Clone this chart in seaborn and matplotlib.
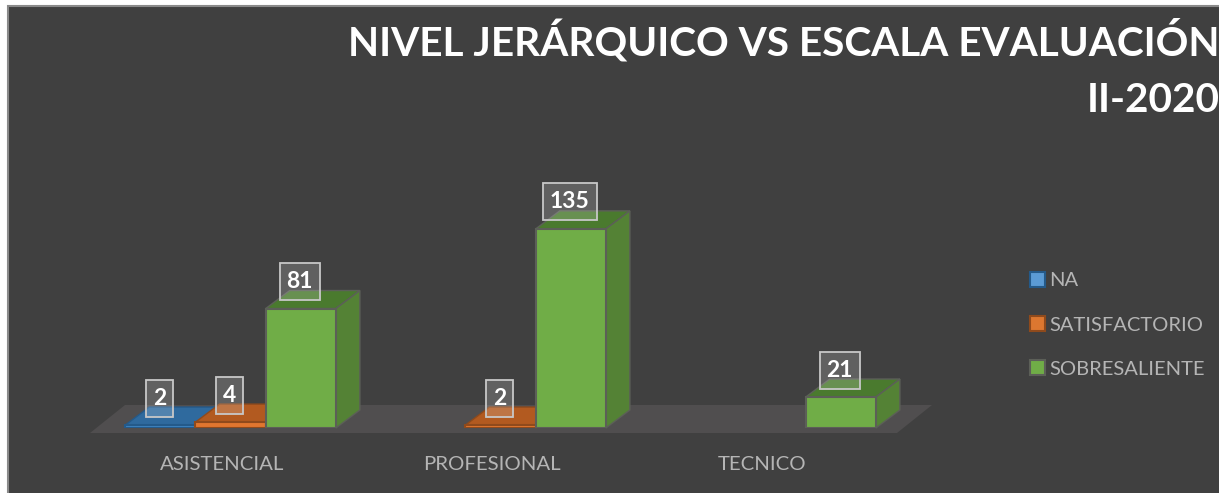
import pandas as pd
import numpy as np
import matplotlib
matplotlib.use("Agg")
import matplotlib.pyplot as plt
from matplotlib.patches import Polygon, Rectangle
from matplotlib.path import Path
from matplotlib.transforms import ScaledTranslation
import seaborn as sb

niveles = ["ASISTENCIAL", "PROFESIONAL", "TECNICO"]
escalas = ["NA", "SATISFACTORIO", "SOBRESALIENTE"]
val_na = [2, np.nan, np.nan]
val_satisfactorio = [4, 2, np.nan]
val_sobresaliente = [81, 135, 21]

culori_fata = ["#3F83BF", "#E0762F", "#70AD47"]
culori_sus = ["#2F6A9E", "#B25A20", "#4A7A2E"]
culori_lat = ["#2A5F8E", "#A04F1C", "#548235"]
culori_bord = ["#245A8A", "#8F4A1C", "#5C5F58"]

W, H = 1219, 493
FUNDAL = "#404040"
GRI = "#B5B5B5"


def caseta(x0, y0, w, h, mutation_size):
    # caseta etichetei: inaltime fixa, 7 px spatiu lateral
    cy = y0 + h / 2
    x1, x2 = x0 - 7, x0 + w + 7
    y1, y2 = cy - 18.5, cy + 18.5
    return Path([(x1, y1), (x2, y1), (x2, y2), (x1, y2), (x1, y1)], closed=True)


t = pd.DataFrame({"nivel": niveles, "NA": val_na,
                  "SATISFACTORIO": val_satisfactorio,
                  "SOBRESALIENTE": val_sobresaliente})
t = t.melt(id_vars="nivel", var_name="escala", value_name="valor").dropna()

sb.set_style("white")
plt.rcParams["font.family"] = ["Lato", "DejaVu Sans"]

fig = plt.figure(figsize=(W / 100, H / 100), dpi=100, facecolor="white")

# fundal inchis, in pixeli de figura; marginile dreapta/jos ies din imagine
fig.add_artist(Rectangle((8 / W, -0.02), 1.02 - 8 / W, 1.02 - 6 / H, transform=fig.transFigure,
                         facecolor=FUNDAL, edgecolor="#8A8A8A", linewidth=1.5, zorder=-5))

# axa: 270 px pe categorie, 1.475 px pe unitate, baza la y=428
ax = fig.add_axes([95.6 / W, (H - 428) / H, 810 / W, 295 / H])
ax.patch.set_alpha(0)

sb.barplot(data=t, x="nivel", y="valor", hue="escala", order=niveles,
           hue_order=escalas, palette=culori_fata, width=0.78, gap=0,
           saturation=1, ax=ax, legend=False)
ax.set_xlim(-0.5, 2.5)
ax.set_ylim(0, 200)
sb.despine(ax=ax, left=True, bottom=True)
ax.set_xlabel("")
ax.set_ylabel("")
ax.set_yticks([])
ax.tick_params(axis="x", length=0, pad=20.5, labelsize=14.7, labelcolor=GRI)
for lab in ax.get_xticklabels():
    lab.set_transform(lab.get_transform() + ScaledTranslation(-8.5 / 100, 0, fig.dpi_scale_trans))

px_x = 810 / 3
px_y = 295 / 200
dx = 24 / px_x
dy = 18 / px_y

# podeaua 3D
y_fata = -5 / px_y
y_spate = 23 / px_y
x_st = (90 - 95.6) / px_x - 0.5
x_dr = (897 - 95.6) / px_x - 0.5
podea = Polygon([(x_st, y_fata), (x_dr, y_fata),
                 (x_dr + 35 / px_x, y_spate), (x_st + 35 / px_x, y_spate)],
                facecolor="#504E4F", edgecolor="none", zorder=1, clip_on=False)
ax.add_patch(podea)

for k, cont in enumerate(ax.containers):
    z = 3 + k
    for bara, v in zip(cont.patches, cont.datavalues):
        x0 = bara.get_x()
        w = bara.get_width()
        h = bara.get_height()
        if np.isnan(h):
            continue
        bara.set_edgecolor(culori_bord[k])
        bara.set_linewidth(1.5)
        bara.set_zorder(z + 0.2)
        sus = Polygon([(x0, h), (x0 + w, h), (x0 + w + dx, h + dy), (x0 + dx, h + dy)],
                      facecolor=culori_sus[k], edgecolor=culori_bord[k], linewidth=1,
                      zorder=z, clip_on=False)
        lat = Polygon([(x0 + w, 0), (x0 + w + dx, dy), (x0 + w + dx, h + dy), (x0 + w, h)],
                      facecolor=culori_lat[k], edgecolor=culori_bord[k], linewidth=1,
                      zorder=z + 0.1, clip_on=False)
        ax.add_patch(sus)
        ax.add_patch(lat)
        ax.annotate(str(int(v)), (x0 + w / 2, h), xytext=(-1 * 0.72, 27 * 0.72),
                    textcoords="offset points", ha="center", va="center",
                    color="white", fontsize=16.5, fontweight="bold", zorder=10,
                    annotation_clip=False,
                    bbox=dict(boxstyle=caseta, facecolor=(1, 1, 1, 0.17),
                              edgecolor="#C8C8C8", linewidth=1.3))

# legenda
handles = [Rectangle((0, 0), 1, 1, facecolor=c, edgecolor=b, linewidth=1.5)
           for c, b in zip(["#5B9BD5", "#DC7730", "#70AD47"], ["#245A8A", "#8F4A1C", "#5C5F58"])]
fig.legend(handles, escalas, loc="upper left", bbox_to_anchor=(1030 / W, 1 - 272 / H),
           frameon=False, fontsize=14.5, labelcolor=GRI, handlelength=0.75,
           handleheight=0.75, handletextpad=0.2, labelspacing=1.33, borderpad=0,
           borderaxespad=0)

fig.text(1220 / W, 1 - 41 / H, "NIVEL JERÁRQUICO VS ESCALA EVALUACIÓN", color="white",
         fontsize=29.2, fontweight="bold", ha="right", va="center")
fig.text(1220 / W, 1 - 100 / H, "II-2020", color="white",
         fontsize=29.2, fontweight="bold", ha="right", va="center")

fig.savefig("out.png", dpi=100)
